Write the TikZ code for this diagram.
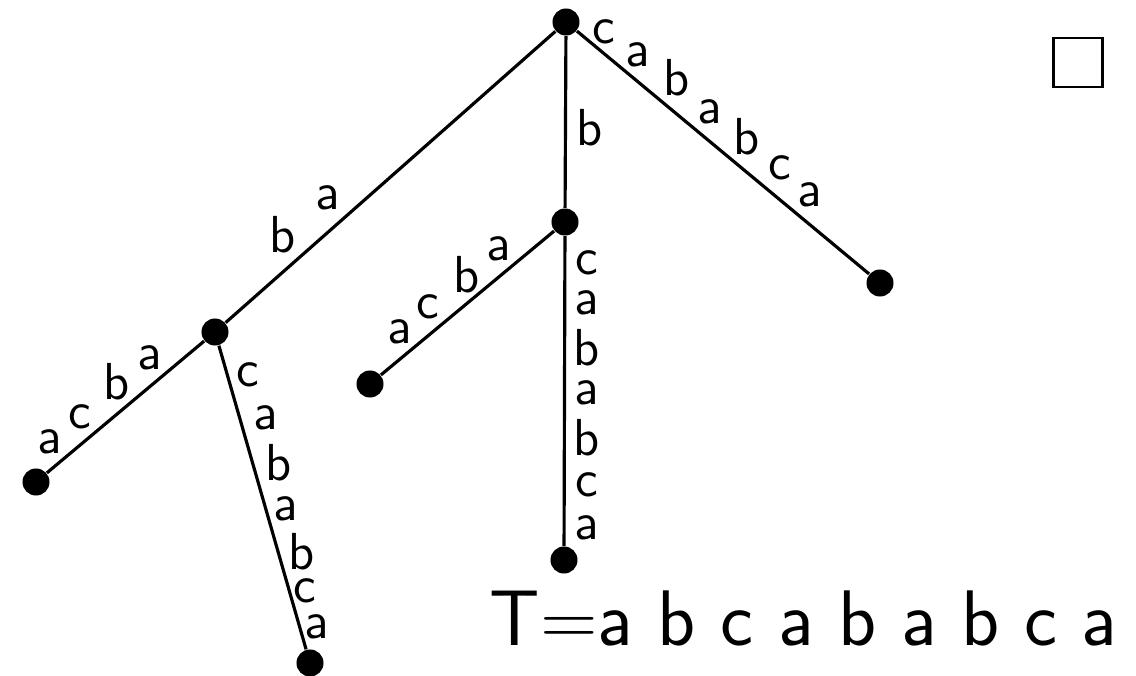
\documentclass[tikz,border=0pt]{standalone}
\usepackage{fontspec}
\usetikzlibrary{positioning}

\begin{document}
\begin{tikzpicture}[
  x=0.01cm,y=-0.01cm,
  font=\sffamily,
  dot/.style={circle,fill=black,inner sep=0pt,minimum size=0.27cm},
  lbl/.style={inner sep=0pt,font=\sffamily\fontsize{14.8}{16}\selectfont},
  edge/.style={line width=0.9pt}
]
\useasboundingbox (0,0) rectangle (1136,676);

% tree nodes
\node[dot] (root) at (566,22) {};
\node[dot] (lint) at (215,332) {};
\node[dot] (mint) at (565,222) {};
\node[dot] (rleaf) at (880,283) {};
\node[dot] (llleaf) at (36,482) {};
\node[dot] (lbleaf) at (310,663) {};
\node[dot] (mlleaf) at (370,384) {};
\node[dot] (mbleaf) at (564,560) {};

\draw[edge] (root) -- (lint);
\draw[edge] (root) -- (mint);
\draw[edge] (root) -- (rleaf);
\draw[edge] (lint) -- (llleaf);
\draw[edge] (lint) -- (lbleaf);
\draw[edge] (mint) -- (mlleaf);
\draw[edge] (mint) -- (mbleaf);

% edge labels, one letter at a time
\foreach \ch/\x/\y [count=\i] in {a/328/198,b/283/235}
  \node[lbl] (rl-\i) at (\x,\y) {\ch};
\node[lbl] (rm-1) at (590,128) {b};
\foreach \ch/\x/\y [count=\i] in {c/604/32,a/638/55,b/677/78,a/710/112,b/747/137,c/780/168,a/810/195}
  \node[lbl] (rr-\i) at (\x,\y) {\ch};
\foreach \ch/\x/\y [count=\i] in {a/50/442,c/80/417,b/117/382,a/150/358}
  \node[lbl] (ll-\i) at (\x,\y) {\ch};
\foreach \ch/\x/\y [count=\i] in {c/248/375,a/266/418,b/279/463,a/286/509,b/302/552,c/305/591,a/317/627}
  \node[lbl] (lb-\i) at (\x,\y) {\ch};
\foreach \ch/\x/\y [count=\i] in {a/400/332,c/428/307,b/467/275,a/499/249}
  \node[lbl] (ml-\i) at (\x,\y) {\ch};
\foreach \ch/\x/\y [count=\i] in {c/587/263,a/587/303,b/587/348,a/587/393,b/587/438,c/587/485,a/587/528}
  \node[lbl] (mb-\i) at (\x,\y) {\ch};

% text and end mark
\node[anchor=base west,inner sep=0pt,font=\sffamily\fontsize{22.4}{25}\selectfont] (text) at (489,645) {T=a b c a b a b c a};
\node[draw,line width=0.75pt,minimum size=0.49cm,inner sep=0pt] (qed) at (1078,62.5) {};
\end{tikzpicture}
\end{document}
